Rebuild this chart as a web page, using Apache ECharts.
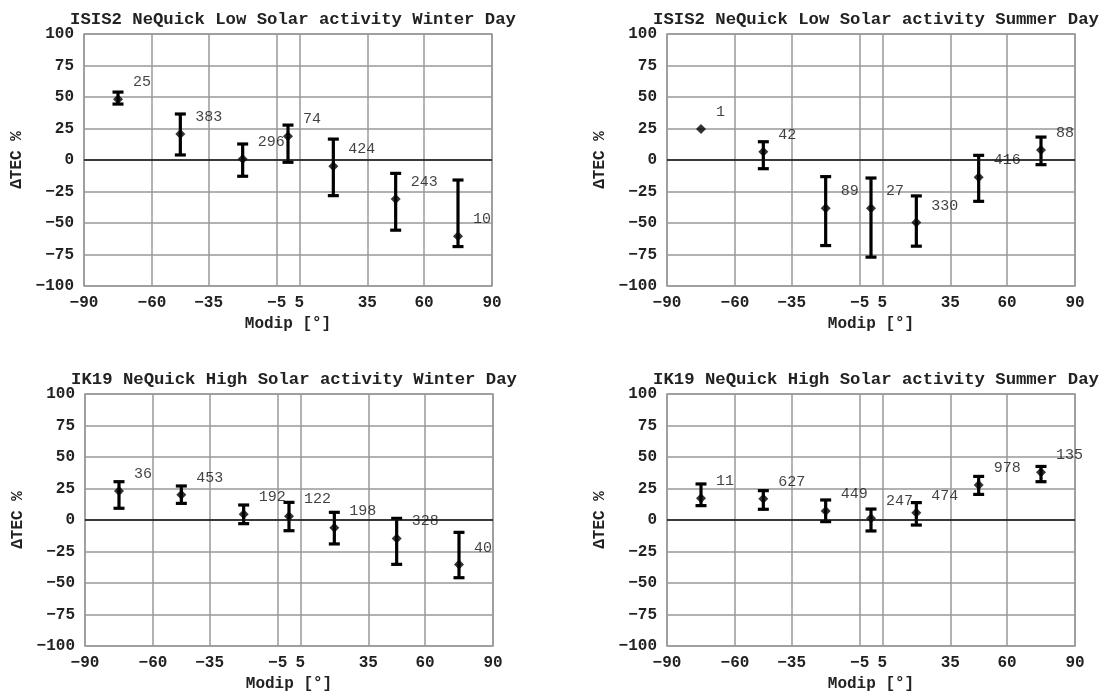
<!DOCTYPE html>
<html>
<head>
<meta charset="utf-8">
<script src="https://cdn.jsdelivr.net/npm/echarts@6/dist/echarts.min.js"></script>
<style>
  html, body { margin: 0; padding: 0; background: #fff; }
</style>
</head>
<body>
<div id="charts" style="width:1101px;height:695px;"></div>
<script>
// bin centres (modip) and the axis tick labels
var modip = [-75, -47.5, -20, 0, 20, 47.5, 75];
var xTicks = [-90, -60, -35, -5, 5, 35, 60, 90];

// ISIS2 low solar activity, winter day
var lowWinterMean = [48.3, 20.6, 0.8, 18.8, -5, -30.9, -60.5];
var lowWinterHigh = [53.9, 36.5, 12.7, 27.7, 16.6, -10.6, -15.9];
var lowWinterLow = [44.4, 4, -12.9, -1.8, -28.3, -55.7, -68.7];
var lowWinterCount = [25, 383, 296, 74, 424, 243, 10];

// ISIS2 low solar activity, summer day
var lowSummerMean = [24.6, 6.6, -38.3, -38.3, -49.7, -13.7, 7.9];
var lowSummerHigh = [null, 14.5, -13.2, -14.3, -28.5, 3.7, 18.2];
var lowSummerLow = [null, -6.9, -67.9, -77.1, -68.4, -32.8, -3.7];
var lowSummerCount = [1, 42, 89, 27, 330, 416, 88];

// IK19 high solar activity, winter day
var highWinterMean = [23, 20.1, 4.5, 2.9, -6.1, -14.6, -35.4];
var highWinterHigh = [30.4, 27, 11.9, 14, 6.1, 1.3, -9.8];
var highWinterLow = [9.3, 13.2, -2.9, -8.5, -19, -35.2, -45.8];
var highWinterCount = [36, 453, 192, 122, 198, 328, 40];

// IK19 high solar activity, summer day
var highSummerMean = [17.2, 16.9, 7.1, 1.3, 5.8, 27.7, 37.8];
var highSummerHigh = [28.6, 23.3, 15.9, 8.7, 13.8, 34.6, 42.5];
var highSummerLow = [11.4, 8.5, -1.3, -8.7, -4, 20.3, 30.4];
var highSummerCount = [11, 627, 449, 247, 474, 978, 135];

var panels = [
  { title: 'ISIS2 NeQuick Low Solar activity Winter Day', mean: lowWinterMean, high: lowWinterHigh, low: lowWinterLow, count: lowWinterCount },
  { title: 'ISIS2 NeQuick Low Solar activity Summer Day', mean: lowSummerMean, high: lowSummerHigh, low: lowSummerLow, count: lowSummerCount },
  { title: 'IK19 NeQuick High Solar activity Winter Day', mean: highWinterMean, high: highWinterHigh, low: highWinterLow, count: highWinterCount },
  { title: 'IK19 NeQuick High Solar activity Summer Day', mean: highSummerMean, high: highSummerHigh, low: highSummerLow, count: highSummerCount }
];

// plot boxes in pixels
var boxes = [
  { left: 84, top: 34 },
  { left: 667, top: 34 },
  { left: 85, top: 394 },
  { left: 667, top: 394 }
];
var boxW = 408, boxH = 252;

var FONT = 'Liberation Mono';
var gridColor = '#999';

function fmtNum (v) {
  return v < 0 ? '\u2212' + Math.abs(v) : String(v);
}

// vertical whisker with caps, from low to high
function renderErrorBar (params, api) {
  var x = api.value(0);
  var top = api.coord([x, api.value(2)]);
  var bot = api.coord([x, api.value(1)]);
  var half = 5.5;
  var style = { stroke: '#000', lineWidth: 3.2 };
  return {
    type: 'group',
    children: [
      { type: 'line', shape: { x1: top[0], y1: top[1], x2: bot[0], y2: bot[1] }, style: style },
      { type: 'line', shape: { x1: top[0] - half, y1: top[1], x2: top[0] + half, y2: top[1] }, style: style },
      { type: 'line', shape: { x1: bot[0] - half, y1: bot[1], x2: bot[0] + half, y2: bot[1] }, style: style }
    ]
  };
}

var option = {
  animation: false,
  backgroundColor: '#fff',
  title: [],
  grid: [],
  xAxis: [],
  yAxis: [],
  series: []
};

panels.forEach(function (p, i) {
  var b = boxes[i];
  option.title.push({
    text: p.title,
    left: b.left + boxW / 2,
    top: b.top - 28,
    textAlign: 'center',
    textStyle: { fontFamily: FONT, fontWeight: 'bold', fontSize: 17.3, color: '#222' }
  });
  option.grid.push({
    left: b.left, top: b.top, width: boxW, height: boxH,
    show: true, borderColor: gridColor, borderWidth: 1.5
  });
  option.xAxis.push({
    type: 'value', gridIndex: i, min: -90, max: 90,
    name: 'Modip [°]', nameLocation: 'middle', nameGap: 30,
    nameTextStyle: { fontFamily: FONT, fontWeight: 'bold', fontSize: 16, color: '#222' },
    axisLine: { show: false },
    axisTick: { show: false, customValues: xTicks },
    axisLabel: {
      customValues: xTicks, margin: 9, formatter: fmtNum,
      fontFamily: FONT, fontWeight: 'bold', fontSize: 16, color: '#222'
    },
    splitLine: { show: true, lineStyle: { color: gridColor, width: 1.5 } }
  });
  option.yAxis.push({
    type: 'value', gridIndex: i, min: -100, max: 100, interval: 25,
    name: 'ΔTEC %', nameLocation: 'middle', nameGap: 59,
    nameTextStyle: { fontFamily: FONT, fontWeight: 'bold', fontSize: 16, color: '#222' },
    axisLine: { show: false },
    axisTick: { show: false },
    axisLabel: {
      margin: 10, formatter: fmtNum,
      fontFamily: FONT, fontWeight: 'bold', fontSize: 16, color: '#222'
    },
    splitLine: { show: true, lineStyle: { color: gridColor, width: 1.5 } }
  });

  var bars = [];
  var points = [];
  for (var k = 0; k < modip.length; k++) {
    if (p.low[k] !== null && p.high[k] !== null) {
      bars.push([modip[k], p.low[k], p.high[k]]);
    }
    points.push([modip[k], p.mean[k], p.count[k]]);
  }

  option.series.push({
    type: 'custom', xAxisIndex: i, yAxisIndex: i, z: 3,
    renderItem: renderErrorBar,
    encode: { x: 0, y: [1, 2] },
    data: bars,
    markLine: {
      silent: true, symbol: 'none', label: { show: false },
      lineStyle: { color: '#111', width: 1.5, type: 'solid' },
      data: [{ yAxis: 0 }]
    }
  });
  option.series.push({
    type: 'scatter', xAxisIndex: i, yAxisIndex: i, z: 4,
    symbol: 'diamond', symbolSize: 10,
    itemStyle: { color: '#000' },
    label: {
      show: true, position: 'right', distance: 10, offset: [0, -17],
      formatter: function (params) { return params.value[2]; },
      fontFamily: FONT, fontSize: 15, color: '#111'
    },
    data: points
  });
});

var myChart = echarts.init(document.getElementById('charts'));
myChart.setOption(option);
</script>
</body>
</html>
